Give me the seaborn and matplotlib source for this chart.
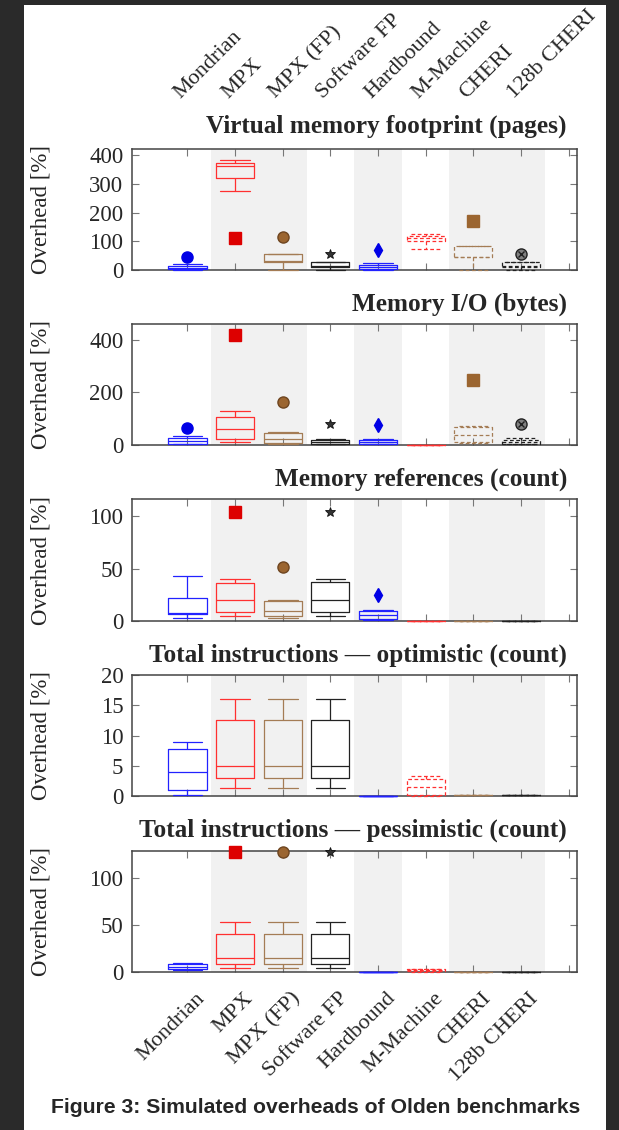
import matplotlib
matplotlib.use('Agg')
import matplotlib.pyplot as plt
import matplotlib.transforms as mtransforms
from matplotlib.patches import Rectangle
import pandas as pd
import seaborn as sns

W, H = 619, 1130

systems = ['Mondrian', 'MPX', 'MPX (FP)', 'Software FP', 'Hardbound',
           'M-Machine', 'CHERI', '128b CHERI']
dashed_systems = ['M-Machine', 'CHERI', '128b CHERI']

titles = ['Virtual memory footprint (pages)',
          'Memory I/O (bytes)',
          'Memory references (count)',
          'Total instructions \u2014 optimistic (count)',
          'Total instructions \u2014 pessimistic (count)']

# box summaries per system: whisker low, q1, median, q3, whisker high
vm_pages = [[0, 3, 8, 15, 22], [276, 319, 362, 371, 383], [0, 29, 31, 55, 55],
            [0, 12, 14, 29, 29], [0, 5, 11, 18, 23], [72, 101, 110, 118, 125],
            [0, 44, 45, 85, 85], [0, 12, 14, 29, 29]]
vm_pages_out = [44, 110, 114, 56, 70, None, 170, 55]

mem_io = [[2, 5, 15, 25, 34], [11, 22, 61, 108, 128], [3, 8, 23, 47, 50],
          [2, 5, 12, 20, 23], [2, 5, 12, 20, 24], [0.5, 0.5, 1, 1, 1.5],
          [8, 13, 38, 69, 71], [2, 5, 12, 20, 25]]
mem_io_out = [66, 418, 165, 78, 76, None, 249, 80]

mem_refs = [[3, 6.5, 8, 22, 43], [5, 9, 20.5, 36.5, 40], [2.5, 5, 10, 19, 20],
            [5, 9, 20.5, 37, 40], [0.8, 1.8, 6, 9.7, 10.3], [0.3, 0.3, 0.3, 0.3, 0.3],
            [0.3, 0.3, 0.3, 0.3, 0.3], [0.3, 0.3, 0.3, 0.3, 0.3]]
mem_refs_out = [None, 104.5, 52, 104.5, 24.5, None, None, None]

instr_opt = [[0.2, 1.0, 3.9, 7.7, 9.0], [1.3, 2.9, 4.9, 12.5, 16], [1.3, 2.9, 4.9, 12.5, 16],
             [1.3, 2.9, 4.9, 12.5, 16], [0.05, 0.05, 0.05, 0.05, 0.05],
             [0.05, 0.1, 1.5, 2.8, 3.3], [0.1, 0.1, 0.1, 0.1, 0.1], [0.1, 0.1, 0.1, 0.1, 0.1]]
instr_opt_out = [None] * 8

instr_pes = [[1.8, 3, 5, 8, 9.5], [4.6, 8.2, 14.6, 40.8, 53], [4.6, 8.2, 14.6, 40.8, 53],
             [4.6, 8.2, 14.6, 40.8, 53], [0.3, 0.3, 0.3, 0.3, 0.3],
             [0.5, 1.0, 2.0, 3.0, 3.3], [0.4, 0.4, 0.4, 0.4, 0.4], [0.4, 0.4, 0.4, 0.4, 0.4]]
instr_pes_out = [None, 128, 128, 128, None, None, None, None]

panels = [(vm_pages, vm_pages_out, 421, [0, 100, 200, 300, 400]),
          (mem_io, mem_io_out, 460, [0, 200, 400]),
          (mem_refs, mem_refs_out, 116, [0, 50, 100]),
          (instr_opt, instr_opt_out, 20, [0, 5, 10, 15, 20]),
          (instr_pes, instr_pes_out, 129, [0, 50, 100])]

line_colors = {'Mondrian': '#2222ff', 'MPX': '#ff3030', 'MPX (FP)': '#a47c55',
               'Software FP': '#222222', 'Hardbound': '#2222ff', 'M-Machine': '#ff3030',
               'CHERI': '#a47c55', '128b CHERI': '#222222'}
marks = {'Mondrian': dict(marker='o', ms=8, mfc='#0000e6', mec='#0000e6'),
         'MPX': dict(marker='s', ms=8, mfc='#dd0000', mec='#dd0000'),
         'MPX (FP)': dict(marker='o', ms=8, mfc='#9b6530', mec='#6e4520'),
         'Software FP': dict(marker='*', ms=7.5, mfc='#333333', mec='#111111', mew=0.6),
         'Hardbound': dict(marker='d', ms=7, mfc='#0000e6', mec='#0000e6'),
         'CHERI': dict(marker='s', ms=8, mfc='#9b6530', mec='#9b6530'),
         '128b CHERI': dict(marker='o', ms=8, mfc='#808080', mec='#202020', mew=1)}

# axes top / bottom in pixels, title baselines
ax_tb = [(149, 270), (324, 445), (499.5, 621), (675, 796), (851, 972)]
title_base = [133, 310.7, 486, 661.7, 836.7]
ax_left, ax_right = 131.7, 576.7


def px(x):
    return x / W


def py(y):
    return 1 - y / H


sns.set_style('white')
plt.rcParams['font.family'] = ['Liberation Serif', 'DejaVu Serif']

fig = plt.figure(figsize=(W / 100, H / 100), dpi=100, facecolor='#2a2a2a')
fig.add_artist(Rectangle((px(24), 0), px(606) - px(24), py(5), transform=fig.transFigure,
                         facecolor='white', edgecolor='none', zorder=-10))

axes = []
for k, (stats, outs, ymax, yticks) in enumerate(panels):
    top, bot = ax_tb[k]
    ax = fig.add_axes([px(ax_left), py(bot), px(ax_right) - px(ax_left), (bot - top) / H])
    axes.append(ax)

    for a, b in [(0.5, 2.5), (3.5, 4.5), (5.5, 7.5)]:
        ax.axvspan(a, b, color='#f1f1f1', lw=0, zorder=0)

    rows = []
    for name, five in zip(systems, stats):
        for v in five:
            rows.append({'system': name, 'overhead': v})
    df = pd.DataFrame(rows)

    for dashed in (False, True):
        sub = df[df['system'].isin(dashed_systems) == dashed]
        ls = (0, (3, 2)) if dashed else '-'
        sns.boxplot(data=sub, x='system', y='overhead', hue='system', order=systems,
                    palette=line_colors, fill=False, whis=(0, 100), width=0.8,
                    linewidth=0.9, showfliers=False, legend=False, ax=ax,
                    capwidths=0.62,
                    boxprops={'linestyle': ls}, whiskerprops={'linestyle': ls},
                    capprops={'linestyle': ls}, medianprops={'linestyle': ls})
    for ln in ax.lines:
        ln.set_zorder(3)
        ln.set_clip_on(False)

    for i, (name, v) in enumerate(zip(systems, outs)):
        if v is None:
            continue
        ax.plot(i, v, ls='none', clip_on=False, zorder=4, **marks[name])
        if name == '128b CHERI':
            ax.plot(i, v, ls='none', marker='x', ms=5, mec='#202020', mew=1,
                    clip_on=False, zorder=5)

    ax.set_xlim(-1.17, 8.17)
    ax.set_ylim(0, ymax)
    ax.set_xticks(range(9))
    ax.set_xticklabels([])
    ax.set_yticks(yticks)
    ax.set_yticklabels([str(t) for t in yticks])
    ax.set_xlabel('')
    ax.set_ylabel('')
    ax.tick_params(direction='in', length=5, width=0.8, color='#777777',
                   top=True, right=True, bottom=True, left=True,
                   labelsize=16.5, pad=6)
    for sp in ax.spines.values():
        sp.set_color('#444444')
        sp.set_linewidth(1.1)

    fig.text(px(567), py(title_base[k]), titles[k], ha='right', va='baseline',
             fontsize=18.2, fontweight='bold')
    fig.text(px(41.5), py((top + bot) / 2), 'Overhead [%]', rotation=90,
             ha='center', va='center', fontsize=16.5)

# category names above the first panel and below the last one
trans_top = mtransforms.blended_transform_factory(axes[0].transData, fig.transFigure)
trans_bot = mtransforms.blended_transform_factory(axes[-1].transData, fig.transFigure)
for i, name in enumerate(systems):
    axes[0].text(i - 0.15, py(99), name, transform=trans_top, rotation=45,
                 rotation_mode='anchor', ha='left', va='baseline', fontsize=16,
                 clip_on=False)
    axes[-1].text(i + 0.17, py(989), name, transform=trans_bot, rotation=45,
                  rotation_mode='anchor', ha='right', va='top', fontsize=16,
                  clip_on=False)

fig.text(px(316), py(1113), 'Figure 3: Simulated overheads of Olden benchmarks',
         ha='center', va='baseline', fontsize=15.2, fontweight='bold',
         family=['Liberation Sans', 'DejaVu Sans'])

fig.savefig('out.png', dpi=100, facecolor=fig.get_facecolor())
